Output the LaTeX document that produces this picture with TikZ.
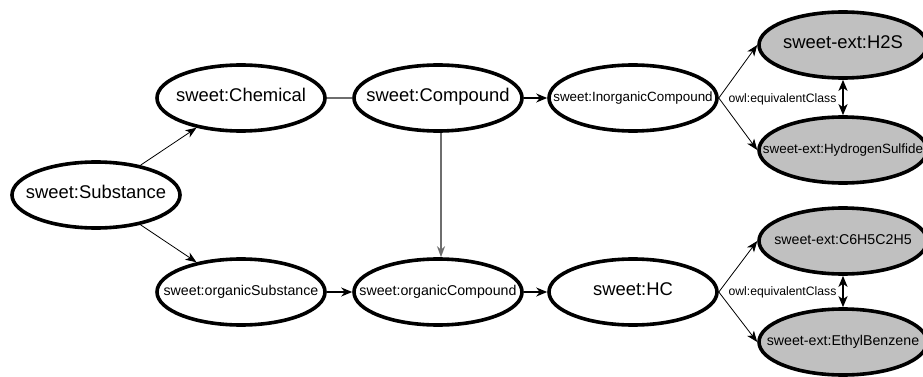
\documentclass[tikz,border=0pt]{standalone}
\usepackage{fontspec}
\setmainfont{Liberation Sans}
\usetikzlibrary{shapes.geometric,arrows.meta}
\definecolor{ext}{RGB}{192,192,192}
\definecolor{edgegray}{RGB}{110,110,110}
\begin{document}
\begin{tikzpicture}[x=1pt,y=-1pt,
  el/.style={ellipse, draw, line width=3.6pt, minimum width=168pt, minimum height=66pt, inner sep=0pt, fill=white},
  gel/.style={el, fill=ext},
  txt/.style={inner sep=0pt, text height=0.716em, text depth=0pt},
  big/.style={txt, font=\fontsize{18.4}{20}\selectfont},
  mid/.style={txt, font=\fontsize{14.2}{16}\selectfont},
  sml/.style={txt, font=\fontsize{13.4}{15}\selectfont},
  eqlbl/.style={font=\fontsize{12.2}{14}\selectfont, inner sep=1.5pt, fill=white},
  thin/.style={-{Stealth[length=11pt,width=8.5pt,inset=3pt]}, line width=0.8pt},
  harr/.style={-{Stealth[length=11pt,width=9pt,inset=3.5pt]}, line width=1.3pt},
  garr/.style={-{Stealth[length=11pt,width=8pt,inset=3.5pt]}, line width=1.6pt, draw=edgegray},
  gline/.style={line width=1.4pt, draw=edgegray},
  eq/.style={{Stealth[length=11pt,width=9pt,inset=3pt]}-{Stealth[length=11pt,width=9pt,inset=3pt]}, line width=2.2pt}
]
\useasboundingbox (0,0) rectangle (923,377);
\clip (0,0) rectangle (923,377);

\node[el, label={[big]center:{sweet:Substance}}] (sub) at (96,195) {};
\node[el, label={[big]center:{sweet:Chemical}}] (chem) at (241,98) {};
\node[el, label={[big]center:{sweet:Compound}}] (comp) at (438,98) {};
\node[el, label={[sml]center:{sweet:InorganicCompound}}] (inorg) at (633,98) {};
\node[gel, label={[big]center:{sweet-ext:H2S}}] (h2s) at (843,45) {};
\node[gel, label={[sml]center:{sweet-ext:HydrogenSulfide}}] (hs) at (843,150) {};
\node[el, label={[mid]center:{sweet:organicSubstance}}] (orgsub) at (241,292) {};
\node[el, label={[mid]center:{sweet:organicCompound}}] (orgcomp) at (438,292) {};
\node[el, label={[big]center:{sweet:HC}}] (hc) at (633,292) {};
\node[gel, label={[mid]center:{sweet-ext:C6H5C2H5}}] (c6) at (843,241) {};
\node[gel, label={[mid]center:{sweet-ext:EthylBenzene}}] (eb) at (843,342) {};

\draw[thin] (sub) -- (chem);
\draw[thin] (sub) -- (orgsub);
\draw[gline] (chem) -- (comp);
\draw[garr] ([xshift=3pt]comp.south) -- ([xshift=3pt]orgcomp.north);
\draw[harr] (comp) -- (inorg);
\draw[harr] (orgsub) -- (orgcomp);
\draw[harr] (orgcomp) -- (hc);
\draw[thin] (inorg.east) -- (h2s.west);
\draw[thin] (inorg.east) -- (hs.west);
\draw[thin] (hc.east) -- (c6.west);
\draw[thin] (hc.east) -- (eb.west);
\draw[eq] (h2s) -- node[eqlbl, left, xshift=-4pt, yshift=-2pt] {owl:equivalentClass} (hs);
\draw[eq] (c6) -- node[eqlbl, left, xshift=-4pt, yshift=-1pt] {owl:equivalentClass} (eb);
\end{tikzpicture}
\end{document}
